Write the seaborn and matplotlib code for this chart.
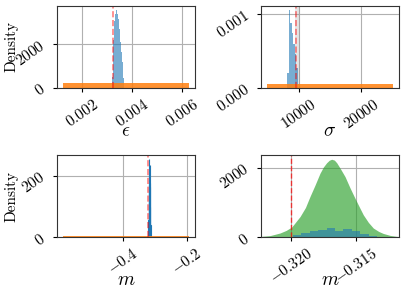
import matplotlib
matplotlib.use("Agg")
import matplotlib.pyplot as plt
import seaborn as sns
import numpy as np
import pandas as pd

# posterior histograms (bin edges + density per bin)
eps_edges = [0.00320, 0.00324, 0.00328, 0.00332, 0.00336, 0.00340, 0.00344,
             0.00348, 0.00352, 0.00356, 0.00360, 0.00364, 0.00368]
eps_dens = [470, 2200, 3040, 3370, 3560, 3370, 3140, 2670, 2110, 1640, 1170, 420]

sig_edges = [8150, 8400, 8650, 8900, 9150, 9400, 9650, 9900]
sig_dens = [0.00020, 0.00106, 0.00088, 0.00074, 0.00060, 0.00046, 0.00027]

m_edges = [-0.3199, -0.31924, -0.31858, -0.31792, -0.31726, -0.3166,
           -0.31594, -0.31528, -0.31462, -0.31396, -0.3133]
m_dens = [55, 115, 170, 205, 255, 165, 235, 178, 98, 40]

# priors (uniform)
eps_prior = [0.00125, 0.00625]
sig_prior = [5000, 25000]
m_prior = [-0.585, -0.195]

# true values
eps_true = 0.00325
sig_true = 9630
sig_band = [9500, 10150]
m_true = -0.320

# approximate posterior curve for m
m_curve_x = [-0.3226, -0.32236, -0.32166, -0.32088, -0.32040, -0.31997, -0.31932,
             -0.31890, -0.31855, -0.31815, -0.31777, -0.31750, -0.31725, -0.31705,
             -0.31686, -0.31665, -0.31647, -0.31620, -0.31582, -0.31545, -0.31505,
             -0.31470, -0.31440, -0.31400, -0.31362, -0.31320, -0.31285, -0.31230,
             -0.31180, -0.3114]
m_curve_y = [12, 17, 40, 115, 190, 287, 590, 850, 1165, 1500, 1836, 2020, 2140, 2210,
             2240, 2215, 2140, 1980, 1740, 1430, 1120, 860, 640, 420, 258, 160, 103,
             45, 17, 10]

plt.rcParams["font.family"] = "cmr10"
plt.rcParams["mathtext.fontset"] = "cm"
plt.rcParams["axes.formatter.use_mathtext"] = True
plt.rcParams["axes.edgecolor"] = "#333333"
plt.rcParams["axes.unicode_minus"] = True

fig, axes = plt.subplots(2, 2, figsize=(4.07, 3.0), dpi=100)
fig.subplots_adjust(left=0.14, right=0.98, top=0.98, bottom=0.21,
                    wspace=0.48, hspace=0.83)


def hist(ax, edges, dens, color, alpha, lw=0):
    e = np.asarray(edges, dtype=float)
    df = pd.DataFrame({"x": (e[:-1] + e[1:]) / 2, "w": np.asarray(dens, dtype=float)})
    sns.histplot(data=df, x="x", weights="w", bins=list(e), stat="count",
                 color=color, alpha=alpha, linewidth=lw, edgecolor=color, ax=ax)


def style(ax, xlabel, xticks, yticks, ylabel=None):
    ax.set_xticks(xticks)
    ax.set_yticks(yticks)
    ax.grid(True, color="#b0b0b0", linewidth=0.8)
    ax.set_axisbelow(True)
    ax.set_xlabel(xlabel, fontsize=14, va="baseline")
    ax.xaxis.set_label_coords(0.5, -0.59)
    ax.set_ylabel(ylabel if ylabel else "", fontsize=11)
    ax.yaxis.set_label_coords(-0.28, 0.5)
    ax.tick_params(labelsize=11, length=3)


def rotate(ax):
    for lab in ax.get_xticklabels() + ax.get_yticklabels():
        lab.set_rotation(35)


# epsilon
ax = axes[0, 0]
hist(ax, eps_edges, eps_dens, "tab:blue", 0.6)
hist(ax, eps_prior, [1 / (eps_prior[1] - eps_prior[0])], "tab:orange", 0.85)
ax.axvline(eps_true, color="red", ls="--", alpha=0.5, lw=1.2)
style(ax, r"$\epsilon$", [0.002, 0.004, 0.006], [0, 2000], "Density")
rotate(ax)

# sigma
ax = axes[0, 1]
ax.axvspan(sig_band[0], sig_band[1], color="grey", alpha=0.2, lw=0)
hist(ax, sig_edges, sig_dens, "tab:blue", 0.6)
hist(ax, sig_prior, [1 / (sig_prior[1] - sig_prior[0])], "tab:orange", 0.85)
ax.axvline(sig_true, color="red", ls="--", alpha=0.5, lw=1.2)
style(ax, r"$\sigma$", [10000, 20000], [0.0, 0.001])
rotate(ax)

# m (full prior range)
ax = axes[1, 0]
hist(ax, m_edges, m_dens, "tab:blue", 0.5, lw=0.8)
hist(ax, m_prior, [1 / (m_prior[1] - m_prior[0])], "tab:orange", 0.85)
ax.axvline(m_true, color="red", ls="--", alpha=0.5, lw=1.2)
style(ax, r"$m$", [-0.4, -0.2], [0, 200], "Density")
rotate(ax)

# m (zoomed)
ax = axes[1, 1]
ax.fill_between(m_curve_x, m_curve_y, color="tab:green", alpha=0.65, lw=0)
hist(ax, m_edges, m_dens, "tab:blue", 0.6)
ax.axvline(m_true, color="red", ls="--", alpha=0.7, lw=1.0)
ax.set_xlim(-0.32236, -0.31163)
style(ax, r"$m$", [-0.320, -0.315], [0, 2000])
ax.xaxis.set_major_formatter(matplotlib.ticker.FormatStrFormatter(r"$%.3f$"))
rotate(ax)

plt.savefig("out.png", dpi=100)
